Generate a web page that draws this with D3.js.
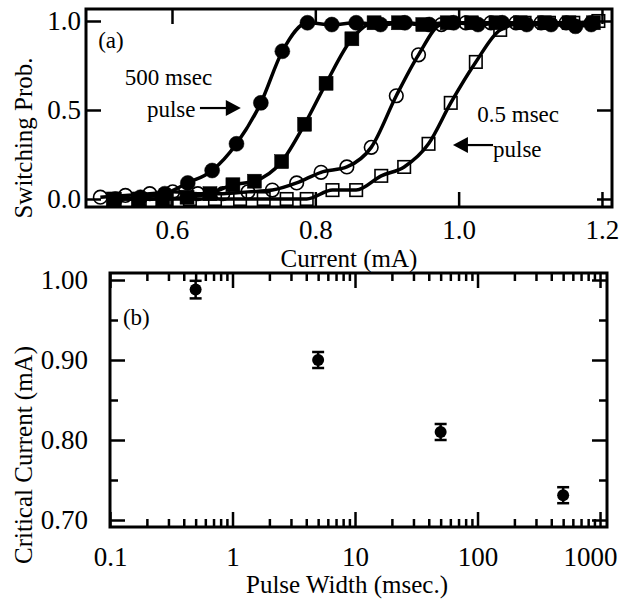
<!DOCTYPE html>
<html>
<head>
    <script src="https://cdnjs.cloudflare.com/ajax/libs/d3/7.8.5/d3.min.js"></script>
    <style>
        body { margin: 0; background: white; }
        svg text { font-family: "Liberation Serif", "DejaVu Serif", serif; fill: black; }
        .tick text { font-size: 27px; }
        .axis-title { font-size: 25px; }
        .note { font-size: 23px; }
        .tick line { stroke: black; stroke-width: 2.5; }
        .fit { fill: none; stroke: black; stroke-width: 3.5; stroke-linejoin: round; }
    </style>
</head>
<body>
    <svg width="621" height="600"></svg>
    <script>
        // (a) switching probability vs current, four pulse widths
        const filledCircleI = [0.521, 0.556, 0.590, 0.622, 0.656, 0.690, 0.724, 0.754, 0.789, 0.823, 0.857, 0.891, 0.925, 0.959, 0.993, 1.027, 1.061, 1.095, 1.129, 1.163, 1.185];
        const filledCircleP = [0.00, 0.01, 0.03, 0.09, 0.16, 0.31, 0.54, 0.83, 0.99, 0.98, 0.99, 0.98, 0.99, 0.98, 0.99, 0.98, 0.99, 0.98, 0.98, 0.97, 0.98];

        const filledSquareI = [0.518, 0.553, 0.587, 0.621, 0.653, 0.685, 0.715, 0.753, 0.785, 0.815, 0.851, 0.882, 0.916, 0.950, 0.984, 1.018, 1.052, 1.086, 1.120, 1.154, 1.188];
        const filledSquareP = [0.00, 0.00, 0.00, 0.01, 0.03, 0.08, 0.10, 0.21, 0.42, 0.65, 0.90, 0.99, 0.99, 0.98, 0.99, 0.99, 0.99, 0.99, 0.99, 0.99, 0.99];

        const openCircleI = [0.500, 0.535, 0.569, 0.601, 0.636, 0.671, 0.706, 0.740, 0.774, 0.808, 0.844, 0.878, 0.913, 0.944, 0.976, 1.010, 1.045, 1.080, 1.115, 1.150, 1.185];
        const openCircleP = [0.01, 0.02, 0.03, 0.04, 0.03, 0.03, 0.04, 0.05, 0.09, 0.15, 0.18, 0.29, 0.58, 0.81, 0.98, 0.99, 0.99, 0.99, 0.99, 0.99, 0.99];

        const openSquareI = [0.520, 0.555, 0.590, 0.625, 0.660, 0.695, 0.728, 0.760, 0.788, 0.824, 0.857, 0.892, 0.924, 0.958, 0.989, 1.024, 1.058, 1.092, 1.126, 1.160, 1.195];
        const openSquareP = [0.00, 0.00, 0.00, 0.00, 0.00, 0.00, 0.00, 0.00, 0.00, 0.05, 0.05, 0.13, 0.18, 0.31, 0.54, 0.77, 0.95, 0.99, 0.99, 0.99, 1.00];

        const ticksA_x = [0.6, 0.8, 1.0, 1.2];
        const ticksA_y = [0.0, 0.5, 1.0];

        // (b) critical current vs pulse width
        const pulseWidth = [0.5, 5, 50, 500];
        const critCurrent = [0.988, 0.900, 0.810, 0.731];
        const critErr = [0.011, 0.010, 0.010, 0.010];

        const ticksB_x = [0.1, 1, 10, 100, 1000];
        const ticksB_y = [0.70, 0.80, 0.90, 1.00];
        const minorB_y = [0.75, 0.85, 0.95];

        const svg = d3.select("svg");

        // ---------- panel (a) ----------
        const A = {left: 86, right: 612, top: 9, bottom: 207};
        const xA = d3.scaleLinear().domain([0.48, 1.214]).range([A.left, A.right]);
        const yA = d3.scaleLinear().domain([-0.045, 1.0674]).range([A.bottom, A.top]);

        const ga = svg.append("g");

        function cleanAxis(g) {
            g.select(".domain").remove();
            g.attr("font-family", null);
        }

        ga.append("g")
            .attr("transform", `translate(0,${A.bottom})`)
            .call(d3.axisBottom(xA).tickValues(ticksA_x).tickSize(-15).tickPadding(13)
                .tickFormat(d3.format(".1f")))
            .call(cleanAxis);
        ga.append("g")
            .attr("transform", `translate(0,${A.top})`)
            .call(d3.axisTop(xA).tickValues(ticksA_x).tickSize(-15).tickFormat(""))
            .call(cleanAxis);
        ga.append("g")
            .attr("transform", `translate(${A.left},0)`)
            .call(d3.axisLeft(yA).tickValues(ticksA_y).tickSize(-15).tickPadding(5)
                .tickFormat(d3.format(".1f")))
            .call(cleanAxis);
        ga.append("g")
            .attr("transform", `translate(${A.right},0)`)
            .call(d3.axisRight(yA).tickValues(ticksA_y).tickSize(-15).tickFormat(""))
            .call(cleanAxis);

        ga.selectAll(".tick text").attr("fill", "black");

        const seriesA = [
            {i: openSquareI, p: openSquareP, shape: "square", filled: false},
            {i: openCircleI, p: openCircleP, shape: "circle", filled: false},
            {i: filledSquareI, p: filledSquareP, shape: "square", filled: true},
            {i: filledCircleI, p: filledCircleP, shape: "circle", filled: true}
        ];

        const line = d3.line()
            .x(d => xA(d[0]))
            .y(d => yA(d[1]))
            .curve(d3.curveMonotoneX);

        seriesA.forEach(s => {
            const pts = s.i.map((v, k) => [v, s.p[k]]);
            ga.append("path").datum(pts).attr("class", "fit").attr("d", line);
        });

        seriesA.forEach(s => {
            const pts = s.i.map((v, k) => [v, s.p[k]]);
            const sel = ga.append("g").selectAll("g").data(pts).enter();
            if (s.shape === "circle") {
                sel.append("circle")
                    .attr("cx", d => xA(d[0]))
                    .attr("cy", d => yA(d[1]))
                    .attr("r", s.filled ? 7.5 : 6.8)
                    .attr("fill", s.filled ? "black" : "none")
                    .attr("stroke", "black")
                    .attr("stroke-width", s.filled ? 0.5 : 1.6);
            } else {
                const size = s.filled ? 14 : 12.5;
                sel.append("rect")
                    .attr("x", d => xA(d[0]) - size / 2)
                    .attr("y", d => yA(d[1]) - size / 2)
                    .attr("width", size)
                    .attr("height", size)
                    .attr("fill", s.filled ? "black" : "none")
                    .attr("stroke", "black")
                    .attr("stroke-width", s.filled ? 0.5 : 1.6);
            }
        });

        ga.append("rect")
            .attr("x", A.left).attr("y", A.top)
            .attr("width", A.right - A.left).attr("height", A.bottom - A.top)
            .attr("fill", "none").attr("stroke", "black").attr("stroke-width", 3);

        ga.append("text").attr("class", "axis-title")
            .attr("x", (A.left + A.right) / 2).attr("y", 267)
            .attr("text-anchor", "middle").text("Current (mA)");
        ga.append("text").attr("class", "axis-title")
            .attr("transform", `translate(32,${(A.top + A.bottom) / 2 + 30}) rotate(-90)`)
            .attr("text-anchor", "middle").text("Switching Prob.");

        // annotations
        ga.append("text").attr("class", "note").attr("x", xA(0.497)).attr("y", yA(0.848)).text("(a)");
        ga.append("text").attr("class", "note").attr("x", xA(0.534)).attr("y", yA(0.64)).text("500 msec");
        ga.append("text").attr("class", "note").attr("x", xA(0.565)).attr("y", yA(0.46)).text("pulse");
        ga.append("text").attr("class", "note").attr("x", xA(1.026)).attr("y", yA(0.433)).text("0.5 msec");
        ga.append("text").attr("class", "note").attr("x", xA(1.048)).attr("y", yA(0.236)).text("pulse");

        function arrow(x0, x1, y) {
            const px0 = xA(x0), px1 = xA(x1), py = yA(y);
            const dir = Math.sign(px1 - px0);
            ga.append("line")
                .attr("x1", px0).attr("x2", px1 - dir * 12)
                .attr("y1", py).attr("y2", py)
                .attr("stroke", "black").attr("stroke-width", 2.2);
            ga.append("path")
                .attr("d", `M${px1},${py} L${px1 - dir * 15},${py - 8} L${px1 - dir * 15},${py + 8} Z`)
                .attr("fill", "black");
        }
        arrow(0.639, 0.696, 0.511);
        arrow(1.048, 0.992, 0.303);

        // ---------- panel (b) ----------
        const B = {left: 110, right: 607, top: 273, bottom: 527};
        const xB = d3.scaleLog().domain([0.1, 1140]).range([B.left, B.right]);
        const yB = d3.scaleLinear().domain([0.69125, 1.00875]).range([B.bottom, B.top]);

        const gb = svg.append("g");
        const minorX = xB.ticks().filter(v => Math.abs(Math.log10(v) - Math.round(Math.log10(v))) > 1e-6);

        gb.append("g")
            .attr("transform", `translate(0,${B.bottom})`)
            .call(d3.axisBottom(xB).tickValues(ticksB_x).tickSize(-15).tickPadding(20)
                .tickFormat(d3.format("~g")))
            .call(cleanAxis)
            .selectAll(".tick text").attr("dx", d => d === 1000 ? -10 : 0);
        gb.append("g")
            .attr("transform", `translate(0,${B.bottom})`)
            .call(d3.axisBottom(xB).tickValues(minorX).tickSize(-8).tickFormat(""))
            .call(cleanAxis);
        gb.append("g")
            .attr("transform", `translate(0,${B.top})`)
            .call(d3.axisTop(xB).tickValues(ticksB_x).tickSize(-15).tickFormat(""))
            .call(cleanAxis);
        gb.append("g")
            .attr("transform", `translate(0,${B.top})`)
            .call(d3.axisTop(xB).tickValues(minorX).tickSize(-8).tickFormat(""))
            .call(cleanAxis);

        gb.append("g")
            .attr("transform", `translate(${B.left},0)`)
            .call(d3.axisLeft(yB).tickValues(ticksB_y).tickSize(-15).tickPadding(22)
                .tickFormat(d3.format(".2f")))
            .call(cleanAxis);
        gb.append("g")
            .attr("transform", `translate(${B.left},0)`)
            .call(d3.axisLeft(yB).tickValues(minorB_y).tickSize(-8).tickFormat(""))
            .call(cleanAxis);
        gb.append("g")
            .attr("transform", `translate(${B.right},0)`)
            .call(d3.axisRight(yB).tickValues(ticksB_y).tickSize(-15).tickFormat(""))
            .call(cleanAxis);
        gb.append("g")
            .attr("transform", `translate(${B.right},0)`)
            .call(d3.axisRight(yB).tickValues(minorB_y).tickSize(-8).tickFormat(""))
            .call(cleanAxis);

        gb.selectAll(".tick text").attr("fill", "black");

        const ptsB = pulseWidth.map((w, k) => ({w: w, c: critCurrent[k], e: critErr[k]}));

        const eb = gb.append("g").selectAll("g").data(ptsB).enter().append("g");
        eb.append("line")
            .attr("x1", d => xB(d.w)).attr("x2", d => xB(d.w))
            .attr("y1", d => yB(d.c - d.e)).attr("y2", d => yB(d.c + d.e))
            .attr("stroke", "black").attr("stroke-width", 2.5);
        eb.append("line")
            .attr("x1", d => xB(d.w) - 6).attr("x2", d => xB(d.w) + 6)
            .attr("y1", d => yB(d.c + d.e)).attr("y2", d => yB(d.c + d.e))
            .attr("stroke", "black").attr("stroke-width", 2.5);
        eb.append("line")
            .attr("x1", d => xB(d.w) - 6).attr("x2", d => xB(d.w) + 6)
            .attr("y1", d => yB(d.c - d.e)).attr("y2", d => yB(d.c - d.e))
            .attr("stroke", "black").attr("stroke-width", 2.5);
        eb.append("circle")
            .attr("cx", d => xB(d.w)).attr("cy", d => yB(d.c))
            .attr("r", 6).attr("fill", "black");

        gb.append("rect")
            .attr("x", B.left).attr("y", B.top)
            .attr("width", B.right - B.left).attr("height", B.bottom - B.top)
            .attr("fill", "none").attr("stroke", "black").attr("stroke-width", 3);

        gb.append("text").attr("class", "axis-title")
            .attr("x", 347).attr("y", 593)
            .attr("text-anchor", "middle").text("Pulse Width (msec.)");
        gb.append("text").attr("class", "axis-title")
            .attr("transform", `translate(32,455) rotate(-90)`)
            .attr("text-anchor", "middle").text("Critical Current (mA)");
        gb.append("text").attr("class", "note").attr("x", xB(0.1276)).attr("y", yB(0.944)).text("(b)");
    </script>
</body>
</html>
